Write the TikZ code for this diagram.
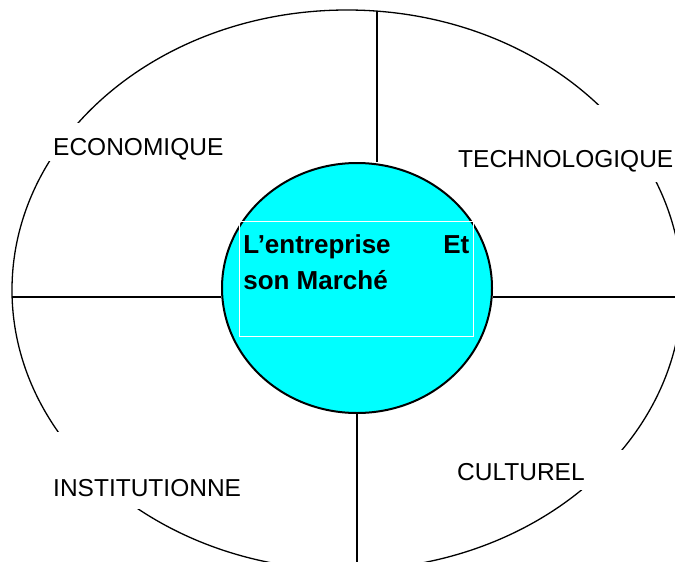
\documentclass[tikz,border=0pt]{standalone}
\usepackage{fontspec}
\setmainfont{Liberation Sans}
\usetikzlibrary{shapes.geometric}
\definecolor{aqua}{RGB}{0,255,255}
\tikzset{
  ring/.style={ellipse,draw,line width=1.3pt,inner sep=0pt},
  core/.style={ellipse,draw,fill=aqua,line width=2pt,inner sep=0pt},
  sector/.style={line width=1.3pt},
  tag/.style={fill=white,anchor=base west,inner xsep=6pt,inner ysep=0pt,font=\fontsize{24.5}{28}\selectfont},
  titlebox/.style={draw=white,line width=0.6pt,anchor=north west,inner xsep=4pt,inner ysep=7pt,font=\bfseries\fontsize{26}{36}\selectfont}
}

\begin{document}
\begin{tikzpicture}[x=1pt,y=-1pt]
  \useasboundingbox (0,0) rectangle (675,562);

  % environment ring
  \node[ring,minimum width=670pt,minimum height=560pt] (anneau) at (347,290) {};

  % company in the middle
  \node[core,minimum width=270pt,minimum height=250pt] (marche) at (357,288) {};

  % four sectors
  \coordinate (gauche) at (12,297);
  \coordinate (droite) at (690,297);
  \coordinate (haut) at (377,11);
  \coordinate (bas) at (357,590);
  \draw[sector] (gauche) -- (gauche -| marche.west);
  \draw[sector] (droite -| marche.east) -- (droite);
  \draw[sector] (haut) -- (haut |- marche.north);
  \draw[sector] (marche.south) -- (bas);

  % sector names, on white boxes over the ring
  \node[tag,text height=32pt,text depth=6pt] (eco) at (47,155) {ECONOMIQUE};
  \node[tag,text height=62pt,text depth=15pt] (tech) at (452,167) {TECHNOLOGIQUE};
  \node[tag,text height=64pt,text depth=13pt] (inst) at (47,496) {INSTITUTIONNE};
  \node[tag,text width=163pt,align=left,text height=30pt,text depth=10pt] (cult) at (451,480) {CULTUREL};

  % title box
  \node[titlebox] (titre) at (239,221) {\parbox[t][101pt][t]{226pt}{\strut L’entreprise\hfill Et\\son Marché}};
\end{tikzpicture}
\end{document}
